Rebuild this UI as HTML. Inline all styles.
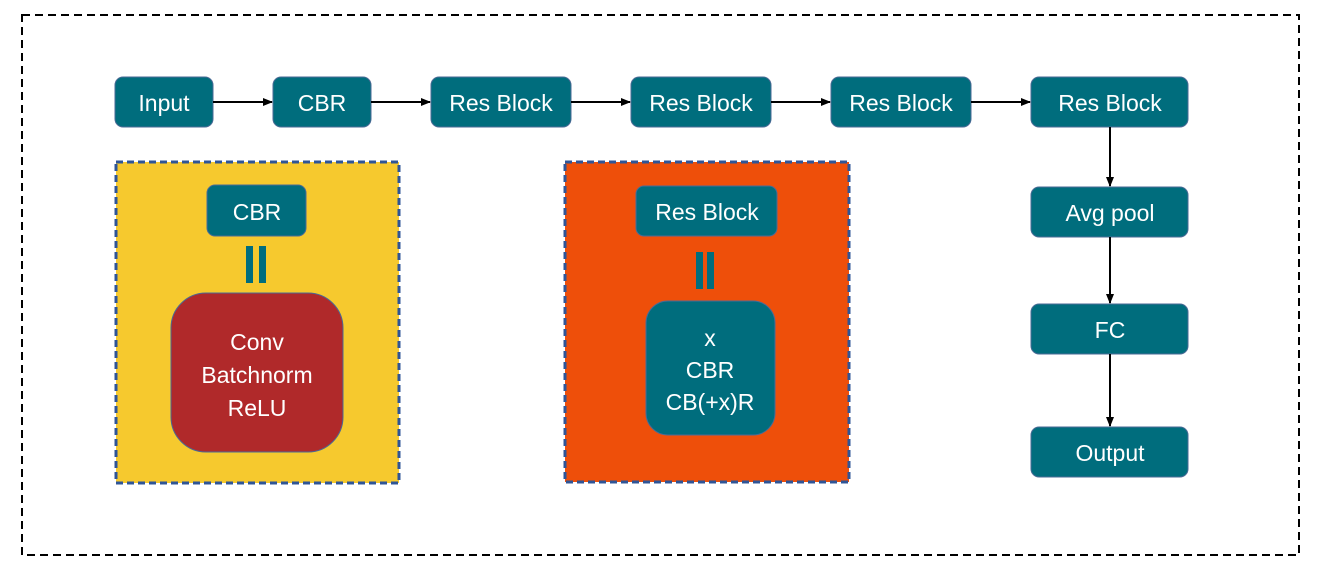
<!DOCTYPE html>
<html><head><style>body{margin:0;background:#fff}svg{display:block}text{font-family:"Liberation Sans",sans-serif;fill:#fff;font-size:23px;text-anchor:middle}</style></head>
<body>
<svg width="1318" height="572" viewBox="0 0 1318 572">
<defs><marker id="a" markerWidth="10" markerHeight="10" refX="9" refY="5" orient="auto" markerUnits="userSpaceOnUse"><path d="M0,1 L10,5 L0,9z" fill="#000"/></marker></defs>
<rect x="22" y="15" width="1277" height="540" fill="none" stroke="#000" stroke-width="2" stroke-dasharray="8,5"/>
<g fill="#006D7D" stroke="#4a6a95" stroke-width="1">
<rect x="115" y="77" width="98" height="50" rx="8"/>
<rect x="273" y="77" width="98" height="50" rx="8"/>
<rect x="431" y="77" width="140" height="50" rx="8"/>
<rect x="631" y="77" width="140" height="50" rx="8"/>
<rect x="831" y="77" width="140" height="50" rx="8"/>
<rect x="1031" y="77" width="157" height="50" rx="8"/>
<rect x="1031" y="187" width="157" height="50" rx="8"/>
<rect x="1031" y="304" width="157" height="50" rx="8"/>
<rect x="1031" y="427" width="157" height="50" rx="8"/>
</g>
<g stroke="#000" stroke-width="2" marker-end="url(#a)">
<line x1="213" y1="102" x2="272" y2="102"/>
<line x1="371" y1="102" x2="430" y2="102"/>
<line x1="571" y1="102" x2="630" y2="102"/>
<line x1="771" y1="102" x2="830" y2="102"/>
<line x1="971" y1="102" x2="1030" y2="102"/>
<line x1="1110" y1="127" x2="1110" y2="186"/>
<line x1="1110" y1="237" x2="1110" y2="303"/>
<line x1="1110" y1="354" x2="1110" y2="426"/>
</g>
<rect x="116" y="162" width="283" height="321" fill="#F6C92E" stroke="#2f5597" stroke-width="3" stroke-dasharray="7,4"/>
<rect x="207" y="185" width="99" height="51" rx="8" fill="#006D7D" stroke="#4a6a95"/>
<rect x="246" y="246" width="7" height="37" fill="#006D7D"/><rect x="259" y="246" width="7" height="37" fill="#006D7D"/>
<rect x="171" y="293" width="172" height="159" rx="35" fill="#B0292A" stroke="#4a6a95"/>
<rect x="565" y="162" width="284" height="320" fill="#EE4F0A" stroke="#2f5597" stroke-width="3" stroke-dasharray="7,4"/>
<rect x="636" y="186" width="141" height="50" rx="8" fill="#006D7D" stroke="#4a6a95"/>
<rect x="696" y="252" width="7" height="37" fill="#006D7D"/><rect x="707" y="252" width="7" height="37" fill="#006D7D"/>
<rect x="646" y="301" width="129" height="134" rx="22" fill="#006D7D" stroke="#4a6a95"/>
<text x="164" y="111">Input</text>
<text x="322" y="111">CBR</text>
<text x="501" y="111">Res Block</text>
<text x="701" y="111">Res Block</text>
<text x="901" y="111">Res Block</text>
<text x="1110" y="111">Res Block</text>
<text x="1110" y="221">Avg pool</text>
<text x="1110" y="338">FC</text>
<text x="1110" y="461">Output</text>
<text x="257" y="220">CBR</text>
<text x="257" y="350">Conv</text>
<text x="257" y="383">Batchnorm</text>
<text x="257" y="416">ReLU</text>
<text x="707" y="220">Res Block</text>
<text x="710" y="346">x</text>
<text x="710" y="378">CBR</text>
<text x="710" y="410">CB(+x)R</text>
</svg>
</body></html>
